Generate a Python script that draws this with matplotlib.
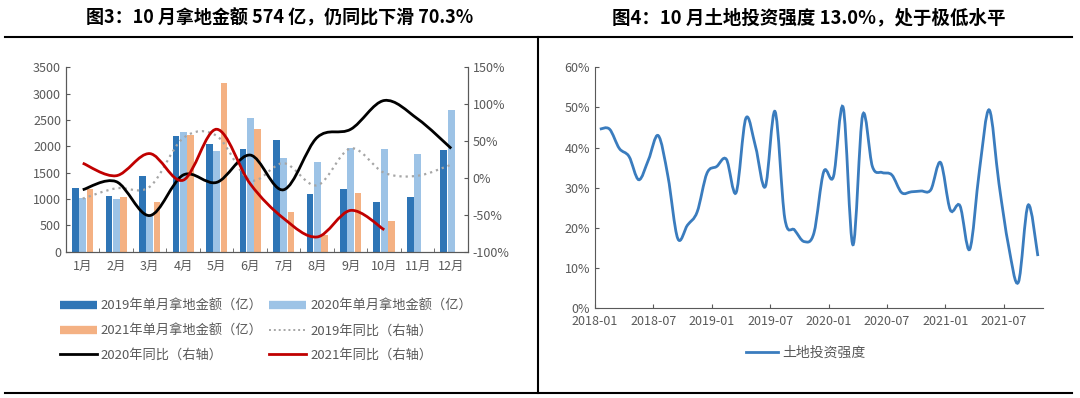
import matplotlib
matplotlib.use("Agg")
import matplotlib.pyplot as plt
import numpy as np
from matplotlib.path import Path
from matplotlib.patches import PathPatch
from matplotlib.lines import Line2D

plt.rcParams['font.family'] = ['Noto Sans CJK SC', 'DejaVu Sans']

months = ['1月', '2月', '3月', '4月', '5月', '6月', '7月', '8月', '9月', '10月', '11月', '12月']
amt_2019 = [1209, 1063, 1437, 2196, 2038, 1955, 2120, 1095, 1184, 943, 1044, 1930]
amt_2020 = [1013, 1000, 700, 2272, 1917, 2543, 1778, 1697, 1974, 1943, 1848, 2689]
amt_2021 = [1190, 1044, 938, 2215, 3196, 2329, 748, 320, 1108, 574]
yoy_2019 = [-28, -14, -12, 54, 57, -3, 20, -10, 40, 7, 3, 18]
yoy_2020 = [-16, -5, -51, 4, -6, 31, -16, 55, 66, 105, 80, 40]
yoy_2021 = [20, 3, 33, -3, 66, -8, -55, -80, -44, -70.3]

# 土地投资强度, 2018-01 .. 2021-10
intensity = [44.6, 44.6, 39.8, 37.8, 32.0, 37.0, 43.0, 32.8, 17.4, 20.7,
             24.0, 33.6, 35.3, 37.1, 28.8, 47.3, 40.2, 30.3, 49.0, 22.4,
             19.5, 16.6, 18.8, 34.0, 32.8, 50.0, 15.8, 48.1, 35.3, 33.8,
             33.2, 28.8, 29.0, 29.2, 29.5, 36.3, 24.5, 25.5, 14.7, 34.4,
             49.4, 31.1, 15.4, 6.5, 25.7, 13.0]
date_labels = ['2018-01', '2018-07', '2019-01', '2019-07', '2020-01', '2020-07', '2021-01', '2021-07']

GRAY = '#595959'
C19, C20, C21 = '#2E75B6', '#9DC3E6', '#F4B183'


def smooth_line(ax, xs, ys, **kw):
    # Excel-style smoothed line: Catmull-Rom through the points, as bezier path
    pts = np.column_stack([xs, ys]).astype(float)
    verts = [pts[0]]
    codes = [Path.MOVETO]
    n = len(pts)
    for i in range(n - 1):
        p0 = pts[i - 1] if i > 0 else pts[i]
        p1, p2 = pts[i], pts[i + 1]
        p3 = pts[i + 2] if i + 2 < n else pts[i + 1]
        verts += [p1 + (p2 - p0) / 6, p2 - (p3 - p1) / 6, p2]
        codes += [Path.CURVE4] * 3
    patch = PathPatch(Path(verts, codes), fill=False, **kw)
    ax.add_patch(patch)
    return patch


fig = plt.figure(figsize=(10.8, 3.98), dpi=100)

# ---- left chart
ax = fig.add_axes([0.0611, 0.3676, 0.3722, 0.4633])
x = np.arange(len(months))
w = 0.2
ax.bar(x - 0.22, amt_2019, w, color=C19, zorder=2)
ax.bar(x, amt_2020, w, color=C20, zorder=2)
ax.bar(np.arange(len(amt_2021)) + 0.22, amt_2021, w, color=C21, zorder=2)
ax.set_xlim(-0.5, 11.5)
ax.set_ylim(0, 3500)
ax.set_yticks(range(0, 3501, 500))
ax.set_xticks(x)
ax.set_xticklabels(months)
ax.set_xticks(np.arange(-0.5, 12, 1), minor=True)
ax.tick_params(axis='x', which='major', length=0, pad=6)
ax.tick_params(axis='x', which='minor', direction='in', length=3, color=GRAY)
ax.tick_params(axis='y', direction='in', length=3, color=GRAY)
ax.tick_params(labelsize=9, labelcolor=GRAY)
ax.spines['top'].set_visible(False)
for s in ['left', 'bottom', 'right']:
    ax.spines[s].set_color(GRAY)

ax2 = ax.twinx()
ax2.set_ylim(-100, 150)
ax2.set_yticks(range(-100, 151, 50))
ax2.set_yticklabels([f'{v}%' for v in range(-100, 151, 50)])
ax2.tick_params(axis='y', direction='in', length=3, color=GRAY, labelsize=9, labelcolor=GRAY)
ax2.spines['top'].set_visible(False)
for s in ['left', 'bottom', 'right']:
    ax2.spines[s].set_color(GRAY)
smooth_line(ax2, x, yoy_2019, edgecolor='#A6A6A6', lw=1.6, linestyle=(0, (1, 1.8)), zorder=3)
smooth_line(ax2, x, yoy_2020, edgecolor='black', lw=2, zorder=4)
smooth_line(ax2, np.arange(len(yoy_2021)), yoy_2021, edgecolor='#C00000', lw=2, zorder=5)

h19 = Line2D([], [], color=C19, lw=6, solid_capstyle='butt')
h20 = Line2D([], [], color=C20, lw=6, solid_capstyle='butt')
h21 = Line2D([], [], color=C21, lw=6, solid_capstyle='butt')
hd = Line2D([], [], color='#A6A6A6', lw=1.4, linestyle=(0, (1, 1.5)))
hb = Line2D([], [], color='black', lw=2)
hr = Line2D([], [], color='#C00000', lw=2)
handles = [h19, h21, hb, h20, hd, hr]
labels = ['2019年单月拿地金额（亿）', '2021年单月拿地金额（亿）', '2020年同比（右轴）',
          '2020年单月拿地金额（亿）', '2019年同比（右轴）', '2021年同比（右轴）']
leg = fig.legend(handles, labels, ncol=2, loc='upper left', bbox_to_anchor=(0.0556, 0.2462),
                 frameon=False, fontsize=9.5, handlelength=2.8, handletextpad=0.3,
                 columnspacing=0.5, labelspacing=0.85, borderpad=0, borderaxespad=0)
for t in leg.get_texts():
    t.set_color(GRAY)

# ---- right chart
bx = fig.add_axes([0.5509, 0.2254, 0.4146, 0.6055])
xi = np.arange(len(intensity))
bx.set_xlim(-0.5, len(intensity) - 0.5)
bx.set_ylim(0, 60)
smooth_line(bx, xi, intensity, edgecolor='#3A7CBE', lw=2, zorder=3)
bx.plot([], [], color='#3A7CBE', lw=2, label='土地投资强度')
bx.set_yticks(range(0, 61, 10))
bx.set_yticklabels([f'{v}%' for v in range(0, 61, 10)])
bx.set_xticks(np.arange(len(date_labels)) * 6 - 0.5)
bx.set_xticklabels(date_labels)
bx.tick_params(direction='in', length=3, color=GRAY, labelsize=9, labelcolor=GRAY)
bx.tick_params(axis='x', pad=5)
for s in ['top', 'right']:
    bx.spines[s].set_visible(False)
for s in ['left', 'bottom']:
    bx.spines[s].set_color(GRAY)
leg2 = fig.legend(loc='center', bbox_to_anchor=(0.7463, 0.113), frameon=False, fontsize=10,
                  handlelength=2.3, handletextpad=0.3, borderpad=0)
for t in leg2.get_texts():
    t.set_color(GRAY)

# ---- titles and frame lines
fig.text(0.259, 0.955, '图3：10 月拿地金额 574 亿，仍同比下滑 70.3%', ha='center', va='center',
         fontsize=13, fontweight='bold', color='black')
fig.text(0.749, 0.955, '图4：10 月土地投资强度 13.0%，处于极低水平', ha='center', va='center',
         fontsize=13.3, fontweight='bold', color='black')
fig.add_artist(Line2D([0.005, 0.993], [0.907, 0.907], color='black', lw=1.5))
fig.add_artist(Line2D([0.005, 0.993], [0.0133, 0.0133], color='black', lw=1.5))
fig.add_artist(Line2D([0.4984, 0.4984], [0.0133, 0.907], color='black', lw=1.5))

fig.savefig('out.png', dpi=100)
